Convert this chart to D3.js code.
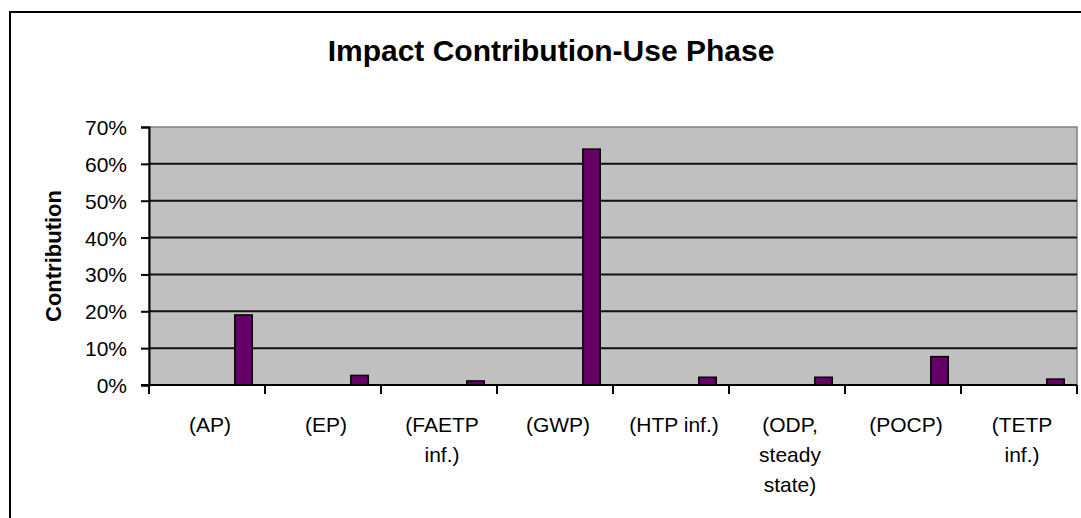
<!DOCTYPE html>
<html>
<head>
<meta charset="utf-8">
<script src="https://cdn.jsdelivr.net/npm/d3@7"></script>
<style>
  body { margin: 0; background: #fff; }
  svg { display: block; font-family: Arial, "Liberation Sans", sans-serif; }
</style>
</head>
<body>
<div id="chart"></div>
<script>
// data
const categories = ["(AP)", "(EP)", "(FAETP inf.)", "(GWP)", "(HTP inf.)", "(ODP, steady state)", "(POCP)", "(TETP inf.)"];
const categoryLines = [["(AP)"], ["(EP)"], ["(FAETP", "inf.)"], ["(GWP)"], ["(HTP inf.)"], ["(ODP,", "steady", "state)"], ["(POCP)"], ["(TETP", "inf.)"]];
const useValues = [0.19, 0.026, 0.011, 0.64, 0.021, 0.021, 0.077, 0.016];
const yTicks = [0, 0.1, 0.2, 0.3, 0.4, 0.5, 0.6, 0.7];
const chartTitle = "Impact Contribution-Use Phase";
const yTitle = "Contribution";

const width = 1081, height = 518;
const margin = { top: 127, right: 4, bottom: 133, left: 149 };

const bardata = categories.map((c, i) => ({ name: c, lines: categoryLines[i], yval: useValues[i] }));

const svg = d3.select("#chart")
  .append("svg")
  .attr("width", width)
  .attr("height", height);

// outer chart frame (runs off the bottom/right like the original)
svg.append("rect")
  .attr("x", 10).attr("y", 12)
  .attr("width", width + 20).attr("height", height + 20)
  .attr("fill", "#fff")
  .attr("stroke", "#000")
  .attr("stroke-width", 2);

const x = d3.scaleBand()
  .domain(categories)
  .range([margin.left, width - margin.right])
  .padding(0);

const y = d3.scaleLinear()
  .domain([0, 0.7])
  .range([height - margin.bottom, margin.top]);

// plot area
svg.append("rect")
  .attr("x", margin.left)
  .attr("y", y(0.7))
  .attr("width", x.range()[1] - margin.left)
  .attr("height", y(0) - y(0.7))
  .attr("fill", "#c0c0c0")
  .attr("stroke", "#808080")
  .attr("stroke-width", 1.5);

// gridlines
svg.append("g")
  .selectAll("line")
  .data(yTicks.filter(t => t > 0 && t < 0.7))
  .join("line")
  .attr("x1", margin.left)
  .attr("x2", x.range()[1])
  .attr("y1", d => y(d))
  .attr("y2", d => y(d))
  .attr("stroke", "#111")
  .attr("stroke-width", 2);

// bars - sit in the right part of each category, like the excel original
const bw = x.bandwidth();
svg.append("g")
  .selectAll("rect")
  .data(bardata)
  .join("rect")
  .attr("x", d => x(d.name) + bw * 0.74)
  .attr("width", bw * 0.15)
  .attr("y", d => y(d.yval))
  .attr("height", d => y(0) - y(d.yval))
  .attr("fill", "#660066")
  .attr("stroke", "#000")
  .attr("stroke-width", 1.5);

function yAxis(g) {
  g.attr("transform", `translate(${margin.left},0)`)
    .call(d3.axisLeft(y).tickValues(yTicks).tickFormat(d3.format(".0%")).tickSize(8).tickPadding(14))
    .attr("font-size", 21)
    .attr("font-family", "Arial, 'Liberation Sans', sans-serif");
  g.select(".domain").attr("stroke", "#000").attr("stroke-width", 2);
  g.selectAll(".tick line").attr("stroke", "#000").attr("stroke-width", 2);
  g.selectAll(".tick text").attr("fill", "#000").attr("dy", "0.36em");
}

function xAxis(g) {
  g.attr("transform", `translate(0,${y(0)})`);
  g.append("line")
    .attr("x1", margin.left - 8).attr("x2", x.range()[1])
    .attr("stroke", "#000").attr("stroke-width", 2);
  const edges = categories.map(c => x(c)).concat([x.range()[1]]);
  g.selectAll("line.tk")
    .data(edges)
    .join("line")
    .attr("class", "tk")
    .attr("x1", d => d).attr("x2", d => d)
    .attr("y1", 0).attr("y2", 9)
    .attr("stroke", "#000").attr("stroke-width", 2);
  const lbl = g.selectAll("text.lbl")
    .data(bardata)
    .join("text")
    .attr("class", "lbl")
    .attr("text-anchor", "middle")
    .attr("font-size", 21)
    .attr("fill", "#000")
    .attr("transform", d => `translate(${x(d.name) + bw / 2 + 3},47)`);
  lbl.selectAll("tspan")
    .data(d => d.lines)
    .join("tspan")
    .attr("x", 0)
    .attr("y", (d, i) => i * 30)
    .text(d => d);
}

svg.append("g").call(yAxis);
svg.append("g").call(xAxis);

// title
svg.append("text")
  .attr("x", 551)
  .attr("y", 61)
  .attr("text-anchor", "middle")
  .attr("font-size", 30)
  .attr("font-weight", "bold")
  .text(chartTitle);

// y label
svg.append("text")
  .attr("transform", `translate(61,${(y(0) + y(0.7)) / 2}) rotate(-90)`)
  .attr("text-anchor", "middle")
  .attr("font-size", 22)
  .attr("font-weight", "bold")
  .text(yTitle);
</script>
</body>
</html>
